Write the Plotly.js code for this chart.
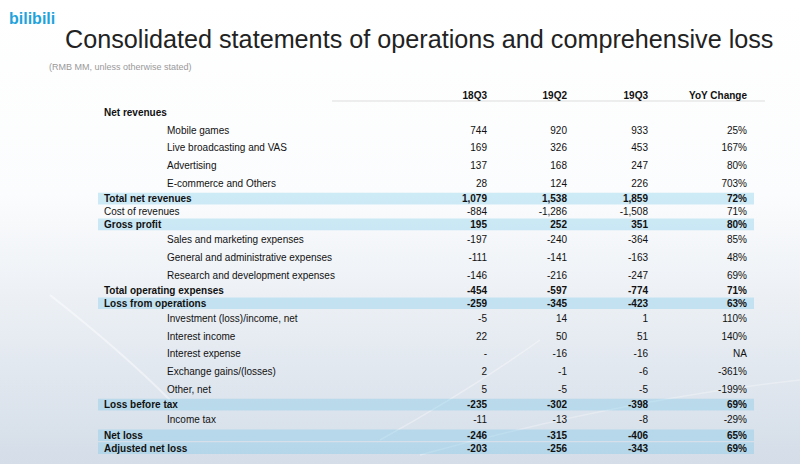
<!DOCTYPE html>
<html>
<head>
<meta charset="utf-8">
<script src="https://cdn.plot.ly/plotly-3.0.1.min.js"></script>
<style>html,body{margin:0;padding:0;background:#fff;}#chart{width:800px;height:464px;}</style>
</head>
<body>
<div id="chart"></div>
<script>
// ---- data ----
const rowLabels = ['Net revenues','Mobile games','Live broadcasting and VAS','Advertising','E-commerce and Others',
  'Total net revenues','Cost of revenues','Gross profit','Sales and marketing expenses','General and administrative expenses',
  'Research and development expenses','Total operating expenses','Loss from operations','Investment (loss)/income, net',
  'Interest income','Interest expense','Exchange gains/(losses)','Other, net','Loss before tax','Income tax','Net loss','Adjusted net loss'];
const rowKind = ['section','item','item','item','item','total','plain','total','item','item','item','bold','total',
  'item','item','item','item','item','total','item','total','total'];
const columns = ['18Q3','19Q2','19Q3','YoY Change'];
const v18Q3 = [null,744,169,137,28,1079,-884,195,-197,-111,-146,-454,-259,-5,22,null,2,5,-235,-11,-246,-203];
const v19Q2 = [null,920,326,168,124,1538,-1286,252,-240,-141,-216,-597,-345,14,50,-16,-1,-5,-302,-13,-315,-256];
const v19Q3 = [null,933,453,247,226,1859,-1508,351,-364,-163,-247,-774,-423,1,51,-16,-6,-5,-398,-8,-406,-343];
const yoyPct = [null,25,167,80,703,72,71,80,85,48,69,71,63,110,140,null,-361,-199,69,-29,65,69];

// ---- layout helpers ----
const kindHeight = {section:18.5, item:17.7, total:12.9, bold:12.9, plain:12.9};
const firstRowY = 113;
const rowY = [];
rowLabels.forEach((_, i) => {
  if (i === 0) rowY.push(firstRowY);
  else rowY.push(rowY[i-1] + (kindHeight[rowKind[i-1]] + kindHeight[rowKind[i]]) / 2);
});
const isBold = k => k === 'section' || k === 'total' || k === 'bold';
const labelX = k => k === 'item' ? 167 : 104;
const colRight = [487, 567, 648, 747];
const headerY = 96;
const FONT = 'Liberation Sans, Arial, sans-serif';

const fmtNum = (v, k) => k === 'section' ? '' : (v === null ? '-' : v.toLocaleString('en-US'));
const fmtPct = (v, k) => k === 'section' ? '' : (v === null ? 'NA' : v + '%');
const wrap = (s, k) => isBold(k) && s ? '<b>' + s + '</b>' : s;

const traces = [];
traces.push({
  type:'scatter', mode:'text', x: rowKind.map(labelX), y: rowY,
  text: rowLabels.map((s,i) => wrap(s, rowKind[i])), textposition:'middle right',
  textfont:{family:FONT, size:10, color:'#111'}, hoverinfo:'skip', showlegend:false, cliponaxis:false
});
const seriesList = [v18Q3, v19Q2, v19Q3];
seriesList.forEach((vals, c) => {
  traces.push({
    type:'scatter', mode:'text', x: vals.map(() => colRight[c]), y: rowY,
    text: vals.map((v,i) => wrap(fmtNum(v, rowKind[i]), rowKind[i])), textposition:'middle left',
    textfont:{family:FONT, size:10, color:'#111'}, hoverinfo:'skip', showlegend:false, cliponaxis:false
  });
});
traces.push({
  type:'scatter', mode:'text', x: yoyPct.map(() => colRight[3]), y: rowY,
  text: yoyPct.map((v,i) => wrap(fmtPct(v, rowKind[i]), rowKind[i])), textposition:'middle left',
  textfont:{family:FONT, size:10, color:'#111'}, hoverinfo:'skip', showlegend:false, cliponaxis:false
});
traces.push({
  type:'scatter', mode:'text', x: colRight, y: columns.map(() => headerY),
  text: columns.map(s => '<b>' + s + '</b>'), textposition:'middle left',
  textfont:{family:FONT, size:10, color:'#111'}, hoverinfo:'skip', showlegend:false, cliponaxis:false
});

const shapes = [];
rowKind.forEach((k, i) => {
  if (k === 'total') shapes.push({type:'rect', xref:'x', yref:'y', x0:98, x1:754, y0:rowY[i]-6.8, y1:rowY[i]+4.9,
    fillcolor:'rgba(120,200,235,0.35)', line:{width:0}, layer:'below'});
});
shapes.push({type:'line', xref:'x', yref:'y', x0:332, x1:765, y0:101, y1:101, line:{color:'#dddddd', width:1}, layer:'below'});

const bgSvg = "<svg xmlns='http://www.w3.org/2000/svg' width='800' height='464'>" +
  "<defs><linearGradient id='g' x1='0' y1='0' x2='0' y2='1'>" +
  "<stop offset='0' stop-color='#ffffff'/><stop offset='0.42' stop-color='#fbfcfd'/><stop offset='1' stop-color='#d4dde8'/>" +
  "</linearGradient></defs><rect width='800' height='464' fill='url(#g)'/>" +
  "<path d='M50 295 Q 120 350 170 400' stroke='rgba(255,255,255,0.45)' stroke-width='2' fill='none'/>" +
  "<path d='M380 440 Q 470 390 540 340' stroke='rgba(255,255,255,0.35)' stroke-width='1.5' fill='none'/>" +
  "<path d='M420 455 Q 620 400 800 380' stroke='rgba(255,255,255,0.3)' stroke-width='1.5' fill='none'/>" +
  "</svg>";

const layout = {
  width:800, height:464,
  margin:{l:0, r:0, t:0, b:0},
  paper_bgcolor:'#ffffff', plot_bgcolor:'rgba(0,0,0,0)',
  xaxis:{range:[0,800], visible:false, fixedrange:true},
  yaxis:{range:[464,0], visible:false, fixedrange:true},
  showlegend:false,
  title:{text:'Consolidated statements of operations and comprehensive loss', x:65/800, xanchor:'left',
    y:1-39/464, yanchor:'middle', font:{family:FONT, size:25.2, color:'#222222'}},
  images:[{source:'data:image/svg+xml;charset=utf-8,' + encodeURIComponent(bgSvg), xref:'paper', yref:'paper',
    x:0, y:1, sizex:1, sizey:1, sizing:'stretch', layer:'below', xanchor:'left', yanchor:'top'}],
  annotations:[
    {text:'<b>bilibili</b>', xref:'paper', yref:'paper', x:7/800, y:1-19/464, xanchor:'left', yanchor:'middle',
      showarrow:false, font:{family:'Liberation Sans, sans-serif', size:16, color:'#1fa3dc'}},
    {text:'(RMB MM, unless otherwise stated)', xref:'paper', yref:'paper', x:47/800, y:1-67/464, xanchor:'left', yanchor:'middle',
      showarrow:false, font:{family:FONT, size:9, color:'#9a9a9a'}}
  ],
  shapes:shapes
};
Plotly.newPlot('chart', traces, layout, {displayModeBar:false, staticPlot:true});
</script>
</body>
</html>
